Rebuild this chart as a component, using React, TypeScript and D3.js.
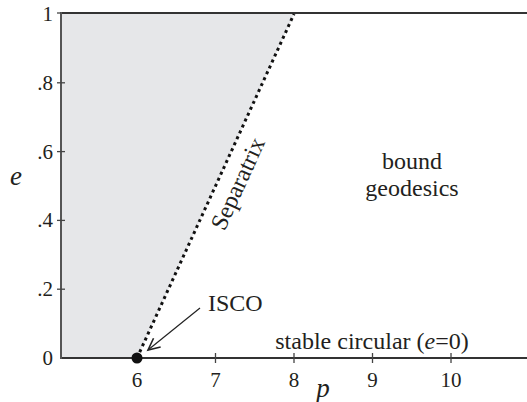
import React from "react";
import * as d3 from "d3";

const W = 527;
const H = 402;

const xTicks = [6, 7, 8, 9, 10];
const yTicks = [0, 0.2, 0.4, 0.6, 0.8, 1];
const yTickLabels = ["0", ".2", ".4", ".6", ".8", "1"];
// Separatrix p = 6 + 2e (Schwarzschild)
const sepE = [0, 1];
const sepP = [6, 8];
const isco = { p: 6, e: 0 };

const FONT = "Liberation Serif";

export default function App() {
  const x = d3.scaleLinear().domain([5.032, 10.968]).range([61, 527]);
  const y = d3.scaleLinear().domain([0, 1]).range([358, 14]);

  const sepPts: [number, number][] = sepE.map((e, i) => [sepP[i], e]);
  const line = d3
    .line<[number, number]>()
    .x((d) => x(d[0]))
    .y((d) => y(d[1]));

  const area = d3
    .area<[number, number]>()
    .x0(() => x(5.032))
    .x1((d) => x(d[0]))
    .y((d) => y(d[1]));

  const x0 = x.range()[0];
  const x1 = x.range()[1];
  const yTop = y(1) - 1;
  const yBot = y(0);

  // arrow
  const ax0 = 200, ay0 = 308, ax1 = x(isco.p) + 11, ay1 = y(isco.e) - 8;
  const ang = Math.atan2(ay1 - ay0, ax1 - ax0);
  const hl = 13, ha = 0.45;
  const h1 = [ax1 - hl * Math.cos(ang - ha), ay1 - hl * Math.sin(ang - ha)];
  const h2 = [ax1 - hl * Math.cos(ang + ha), ay1 - hl * Math.sin(ang + ha)];

  const sepAngle =
    (Math.atan2(y(1) - y(0), x(8) - x(6)) * 180) / Math.PI;

  const txt = "#231f20";

  return (
    <svg
      width={W}
      height={H}
      style={{ position: "absolute", left: 0, top: 0 }}
      fontFamily={FONT}
    >
      <rect x={0} y={0} width={W} height={H} fill="#fff" />
      <path d={area(sepPts) || ""} fill="#e6e7e9" />
      {/* frame */}
      <line x1={x0} x2={x1} y1={yTop} y2={yTop} stroke="#333" strokeWidth={2} />
      <line x1={x0} x2={x1} y1={yBot} y2={yBot} stroke="#333" strokeWidth={2} />
      <line x1={x0} x2={x0} y1={yTop - 1} y2={yBot + 1} stroke="#555" strokeWidth={2} />

      {/* separatrix */}
      <path
        d={line(sepPts) || ""}
        fill="none"
        stroke="#111"
        strokeWidth={3}
        strokeDasharray="3 3.5"
      />

      {/* y ticks */}
      {yTicks.map((t, i) => (
        <g key={"y" + t}>
          {t > 0 && t < 1 && (
            <line x1={x0 - 4} x2={x0 + 4} y1={y(t)} y2={y(t)} stroke="#444" strokeWidth={1.3} />
          )}
          {t === 1 && (
            <line x1={x0 - 4} x2={x0} y1={y(t) - 1} y2={y(t) - 1} stroke="#444" strokeWidth={1.3} />
          )}
          <text
            x={x0 - 8}
            y={y(t) + 7}
            textAnchor="end"
            fontSize={21}
            fill={txt}
            fontFamily={FONT}
          >
            {yTickLabels[i]}
          </text>
        </g>
      ))}

      {/* x ticks */}
      {xTicks.map((t) => (
        <g key={"x" + t}>
          {t !== 6 && (
            <line x1={x(t)} x2={x(t)} y1={yBot - 5} y2={yBot + 5} stroke="#444" strokeWidth={1.3} />
          )}
          <text x={x(t)} y={yBot + 29} textAnchor="middle" fontSize={21} fill={txt} fontFamily={FONT}>
            {t}
          </text>
        </g>
      ))}

      {/* axis labels */}
      <text x={16} y={185} textAnchor="middle" fontSize={27} fontStyle="italic" fill={txt} fontFamily={FONT}>
        e
      </text>
      <text x={323} y={397} textAnchor="middle" fontSize={27} fontStyle="italic" fill={txt} fontFamily={FONT}>
        p
      </text>

      {/* ISCO dot and arrow */}
      <circle cx={x(isco.p)} cy={y(isco.e)} r={5.5} fill="#111" />
      <line x1={ax0} y1={ay0} x2={ax1} y2={ay1} stroke="#222" strokeWidth={1.2} />
      <polyline
        points={`${h1[0]},${h1[1]} ${ax1},${ay1} ${h2[0]},${h2[1]}`}
        fill="none"
        stroke="#222"
        strokeWidth={1.6}
      />
      <text x={208} y={311} fontSize={24} fill={txt} fontFamily={FONT}>
        ISCO
      </text>

      {/* region labels */}
      <text x={372} y={349} textAnchor="middle" fontSize={24} fill={txt} fontFamily={FONT}>
        stable circular (<tspan fontStyle="italic">e</tspan>=0)
      </text>
      <text x={412} y={169} textAnchor="middle" fontSize={24} fill={txt} fontFamily={FONT}>
        bound
      </text>
      <text x={412} y={196} textAnchor="middle" fontSize={24} fill={txt} fontFamily={FONT}>
        geodesics
      </text>
      <text
        transform={`translate(${245},${187}) rotate(${sepAngle})`}
        textAnchor="middle"
        fontSize={24}
        fill={txt}
        fontFamily={FONT}
      >
        Separatrix
      </text>
    </svg>
  );
}
